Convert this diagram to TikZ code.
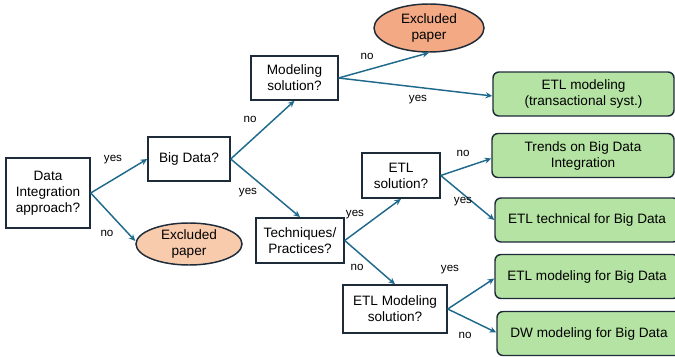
\documentclass[tikz,border=0pt]{standalone}
\usepackage{fontspec}
\setmainfont{Liberation Sans}
\usetikzlibrary{shapes.geometric,arrows.meta,calc}
\definecolor{flow}{HTML}{1F6A8C}
\definecolor{edge}{HTML}{1E2B38}
\definecolor{leaf}{HTML}{B5E3A3}
\definecolor{dropA}{HTML}{F2A984}
\definecolor{dropB}{HTML}{F8CBAD}
\tikzset{
  question/.style={draw=edge, line width=1.1pt, fill=white, align=center,
    inner sep=0pt, font=\fontsize{10.2}{12}\selectfont},
  outcome/.style={draw=edge, line width=1.1pt, fill=leaf, rounded corners=4.5pt,
    align=center, inner sep=0pt, font=\fontsize{10.2}{12}\selectfont,
    minimum width=138pt, minimum height=33pt},
  dropped/.style={ellipse, draw=edge, line width=1.1pt, align=center,
    inner sep=0pt, font=\fontsize{10.2}{12}\selectfont},
  link/.style={draw=flow, line width=1.1pt, -{Stealth[length=5pt,width=4.5pt]}},
  tag/.style={font=\fontsize{8.7}{10}\selectfont, inner sep=0pt}
}
\begin{document}
\begin{tikzpicture}[x=0.75pt, y=-0.75pt]
\useasboundingbox (0,0) rectangle (675,357);
\clip (0,0) rectangle (675,357);

% decision boxes
\node[question, minimum width=63pt, minimum height=52.5pt] (di) at (48,193) {Data\\Integration\\approach?};
\node[question, minimum width=61.5pt, minimum height=33pt] (bd) at (189,159) {Big Data?};
\node[question, minimum width=65pt, minimum height=33pt] (ms) at (294.5,78) {Modeling\\solution?};
\node[question, minimum width=66pt, minimum height=34pt] (tp) at (300,240.5) {Techniques/\\Practices?};
\node[question, minimum width=58.5pt, minimum height=34pt] (es) at (401,175.5) {ETL\\solution?};
\node[question, minimum width=78pt, minimum height=36pt] (ems) at (395,309) {ETL Modeling\\solution?};

% excluded papers
\node[dropped, fill=dropA, minimum width=82.5pt, minimum height=36pt] (xa) at (429,28) {Excluded\\paper};
\node[dropped, fill=dropB, minimum width=79.5pt, minimum height=31.5pt] (xb) at (189,244) {Excluded\\paper};

% final categories (the lower three run past the right edge)
\node[outcome, minimum width=135.75pt] (et) at (583.5,94) {ETL modeling\\(transactional syst.)};
\node[outcome, minimum width=136.5pt] (tr) at (583,155.5) {Trends on Big Data\\Integration};
\node[outcome] (tc) at (587,220) {ETL technical for Big Data};
\node[outcome] (mb) at (587,276.5) {ETL modeling for Big Data};
\node[outcome] (dw) at (589,333.5) {DW modeling for Big Data};

% connectors
\draw[link] (di.east) -- (bd.west);
\draw[link] (di.east) -- ($(xb.west)+(0,-3)$);
\draw[link] (bd.east) -- (ms.south);
\draw[link] (bd.east) -- (tp.north);
\draw[link] (ms.east) -- (xa.south);
\draw[link] (ms.east) -- ($(et.west)+(0,2)$);
\draw[link] (tp.east) -- (es.south);
\draw[link] (tp.east) -- (ems.north);
\draw[link] (es.east) -- ($(tr.west)+(0,3)$);
\draw[link] (es.east) -- (tc.west);
\draw[link] (ems.east) -- ($(mb.west)+(0,2)$);
\draw[link] (ems.east) -- ($(dw.west)+(0,-1)$);

% branch labels
\node[tag] (l1) at (113,160) {yes};
\node[tag] (l2) at (107,233) {no};
\node[tag] (l3) at (250,119) {no};
\node[tag] (l4) at (248,193) {yes};
\node[tag] (l5) at (367,56) {no};
\node[tag] (l6) at (418,100) {yes};
\node[tag] (l7) at (355,215) {yes};
\node[tag] (l8) at (357,267) {no};
\node[tag] (l9) at (463,153) {no};
\node[tag] (l10) at (463,202) {yes};
\node[tag] (l11) at (450,270) {yes};
\node[tag] (l12) at (465,335) {no};
\end{tikzpicture}
\end{document}
